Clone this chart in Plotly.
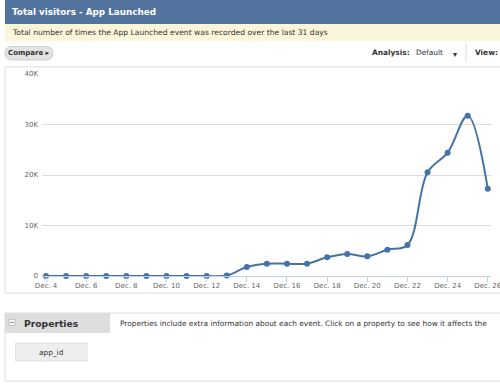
import plotly.graph_objects as go

# ---- data ----
dates = ["Dec. 4", "Dec. 5", "Dec. 6", "Dec. 7", "Dec. 8", "Dec. 9", "Dec. 10", "Dec. 11",
         "Dec. 12", "Dec. 13", "Dec. 14", "Dec. 15", "Dec. 16", "Dec. 17", "Dec. 18",
         "Dec. 19", "Dec. 20", "Dec. 21", "Dec. 22", "Dec. 23", "Dec. 24", "Dec. 25", "Dec. 26"]
launches = [0, 0, 0, 0, 0, 0, 0, 0, 0, 80, 1780, 2440, 2440, 2440, 3700,
            4360, 3900, 5210, 6140, 20530, 24420, 31740, 17290]
y_tickvals = [0, 10000, 20000, 30000, 40000]
y_ticktext = ["0", "10K", "20K", "30K", "40K"]

W, H = 500, 387
FONT = "DejaVu Sans"
LINE = "#4572A7"


def px(x):
    return x / W


def py(y):
    return 1 - y / H


idx = list(range(len(dates)))
tick_idx = idx[::2]
tick_txt = [dates[i] for i in tick_idx]

fig = go.Figure()
fig.add_trace(go.Scatter(
    x=idx, y=launches, mode="lines+markers",
    line=dict(color=LINE, width=2, shape="spline", smoothing=1.0),
    marker=dict(color=LINE, size=6),
    cliponaxis=False, hoverinfo="skip", showlegend=False,
))

shapes = []
annotations = []


def rect(x0, y0, x1, y1, fill, line=None, lw=0):
    shapes.append(dict(type="rect", xref="paper", yref="paper", layer="below",
                       x0=px(x0), x1=px(x1), y0=py(y0), y1=py(y1),
                       fillcolor=fill, line=dict(color=line or fill, width=lw)))


def hline(x0, x1, y, color="#dddddd"):
    shapes.append(dict(type="line", xref="paper", yref="paper", layer="below",
                       x0=px(x0), x1=px(x1), y0=py(y), y1=py(y),
                       line=dict(color=color, width=1)))


def vline(x, y0, y1, color="#dddddd"):
    shapes.append(dict(type="line", xref="paper", yref="paper", layer="below",
                       x0=px(x), x1=px(x), y0=py(y0), y1=py(y1),
                       line=dict(color=color, width=1)))


def text(x, y, s, size=7.2, color="#333333", bold=False, anchor="left"):
    if bold:
        s = "<b>" + s + "</b>"
    annotations.append(dict(xref="paper", yref="paper", x=px(x), y=py(y), text=s,
                            showarrow=False, xanchor=anchor, yanchor="middle",
                            font=dict(family=FONT, size=size, color=color)))


# header
rect(5, 0, 502, 24, "#52739e")
text(10, 12.5, "Total visitors - App Launched", size=8.8, color="white", bold=True)
# yellow info band
rect(5, 24, 502, 41, "#fbf6d9")
text(10, 32.5, "Total number of times the App Launched event was recorded over the last 31 days",
     size=7.6, color="#333333")
# compare button
shapes.append(dict(type="path", xref="paper", yref="paper", layer="below",
                   path="M {a},{b} L {c},{b} Q {d},{b} {d},{e} Q {d},{f} {c},{f} L {a},{f} Q {g},{f} {g},{e} Q {g},{b} {a},{b} Z".format(
                       a=px(12), c=px(46), b=py(46.5), f=py(60), d=px(53), e=py(53.25), g=px(5)),
                   fillcolor="#e2e2e2", line=dict(color="#d0d0d0", width=1)))
text(29, 53.5, "Compare ▸", size=7, color="#333333", bold=True, anchor="center")
# analysis controls
text(370, 52.5, "Analysis:", size=7.4, color="#333333", bold=True)
text(414, 52.5, "Default", size=7.4, color="#333333")
text(455, 54, "▾", size=8, color="#333333", anchor="center")
vline(466, 44, 62, "#dddddd")
text(473, 52.5, "View:", size=7.4, color="#333333", bold=True)

# chart panel border
hline(5, 502, 67)
hline(5, 502, 293)
vline(5, 67, 293)

# properties panel
hline(5, 502, 313)
hline(5, 502, 381)
vline(5, 313, 381)
rect(5, 313, 110, 333, "#dddddd")
rect(9, 319.5, 15, 325.5, "#f4f4f4", "#aaaaaa", 0.6)
hline(10.5, 13.5, 322.5, "#888888")
text(22, 323, "Properties", size=9.2, color="#333333", bold=True)
text(118, 323, "Properties include extra information about each event. Click on a property to see how it affects the",
     size=7.4, color="#333333")
rect(15.5, 343, 87, 361, "#eeeeee", "#e4e4e4", 1)
text(51, 352, "app_id", size=7.4, color="#333333", anchor="center")

fig.update_layout(
    width=W, height=H,
    margin=dict(l=0, r=0, t=0, b=0, autoexpand=False),
    paper_bgcolor="white", plot_bgcolor="white",
    shapes=shapes, annotations=annotations,
    xaxis=dict(domain=[px(42), px(491)], range=[-0.2, 22.16],
               tickvals=tick_idx, ticktext=tick_txt, automargin=False,
               showgrid=False, zeroline=False,
               showline=True, linecolor="#C0D0E0", linewidth=1,
               ticks="outside", ticklen=5, tickcolor="#C0D0E0", tickwidth=1,
               ticklabeloverflow="allow", ticklabelstandoff=-2,
               tickfont=dict(family=FONT, size=7, color="#666666"),
               fixedrange=True),
    yaxis=dict(domain=[py(276), py(74)], range=[0, 40000],
               tickvals=y_tickvals, ticktext=y_ticktext, automargin=False,
               showgrid=True, gridcolor="#dddddd", gridwidth=1,
               zeroline=False, showline=False, ticks="",
               ticklabelstandoff=3,
               tickfont=dict(family=FONT, size=7, color="#666666"),
               fixedrange=True),
)

fig.write_html("out.html", config={"displayModeBar": False},
               post_script="document.body.style.margin='0';document.body.style.overflow='hidden';")
